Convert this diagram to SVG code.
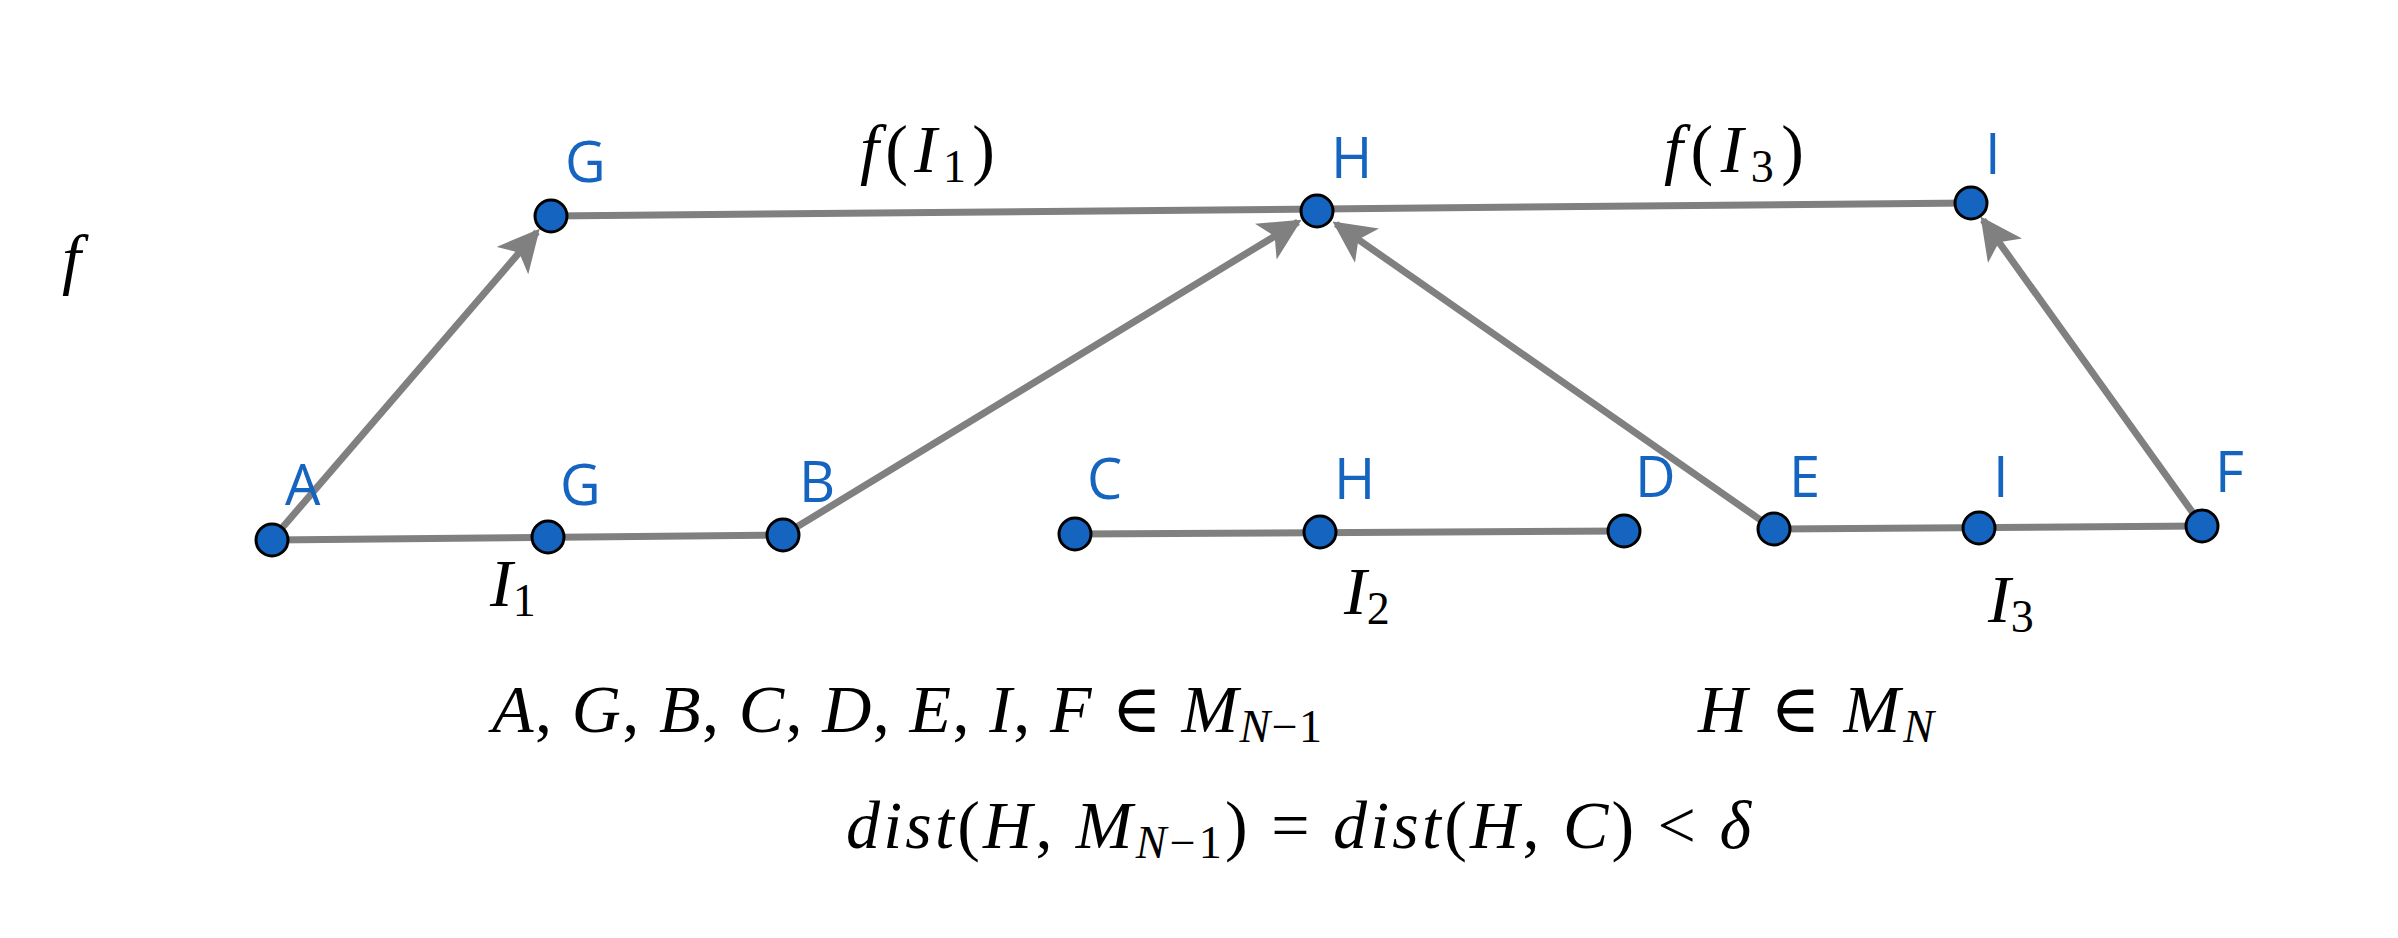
<svg xmlns="http://www.w3.org/2000/svg" width="2398" height="938" viewBox="0 0 2398 938">
<style>
.e{stroke:#808080;stroke-width:7;fill:none}
.a{marker-end:url(#ar)}
.n{fill:#1565C0;stroke:#000;stroke-width:3}
.l{fill:#1565C0;font-family:"Open Sans","DejaVu Sans",sans-serif;font-size:56px}
.m{font-family:"Liberation Serif","DejaVu Serif",serif;font-style:italic;font-size:68px;fill:#000}
.r{font-style:normal}
.s{font-size:46px}
</style>
<defs>
<marker id="ar" viewBox="0 0 10 10" refX="9" refY="5" markerWidth="6" markerHeight="6" markerUnits="strokeWidth" orient="auto">
<path d="M0,0L10,5L0,10L2.5,5z" fill="#808080"/>
</marker>
</defs>
<rect width="2398" height="938" fill="#fff"/>
<g id="connectors">
<line class="e" x1="272" y1="540" x2="783" y2="535"/>
<line class="e" x1="1075" y1="534" x2="1624" y2="531"/>
<line class="e" x1="1774" y1="529" x2="2202" y2="526"/>
<line class="e" x1="551" y1="216" x2="1971" y2="203"/>
<line class="e a" x1="282" y1="528" x2="537" y2="232"/>
<line class="e a" x1="795" y1="528" x2="1298" y2="222"/>
<line class="e a" x1="1762" y1="521" x2="1336" y2="224"/>
<line class="e a" x1="2193" y1="513" x2="1983" y2="220"/>
</g>
<g id="A"><circle class="n" cx="272" cy="540" r="16"/><text class="l" x="285" y="505">A</text></g>
<g id="G1"><circle class="n" cx="548" cy="537" r="16"/><text class="l" x="560" y="505">G</text></g>
<g id="B"><circle class="n" cx="783" cy="535" r="16"/><text class="l" x="799" y="502">B</text></g>
<g id="C"><circle class="n" cx="1075" cy="534" r="16"/><text class="l" x="1087" y="499">C</text></g>
<g id="H1"><circle class="n" cx="1320" cy="532" r="16"/><text class="l" x="1334" y="499">H</text></g>
<g id="D"><circle class="n" cx="1624" cy="531" r="16"/><text class="l" x="1635" y="497">D</text></g>
<g id="E"><circle class="n" cx="1774" cy="529" r="16"/><text class="l" x="1789" y="497">E</text></g>
<g id="I1"><circle class="n" cx="1979" cy="528" r="16"/><text class="l" x="1993" y="497">I</text></g>
<g id="F"><circle class="n" cx="2202" cy="526" r="16"/><text class="l" x="2215" y="492">F</text></g>
<g id="G2"><circle class="n" cx="551" cy="216" r="16"/><text class="l" x="565" y="182">G</text></g>
<g id="H2"><circle class="n" cx="1317" cy="211" r="16"/><text class="l" x="1331" y="178">H</text></g>
<g id="I2"><circle class="n" cx="1971" cy="203" r="16"/><text class="l" x="1985" y="174">I</text></g>
<g id="labels">
<text class="m" x="62" y="282">f</text>
<text class="m" x="860" y="172" textLength="135">f<tspan class="r">(</tspan>I<tspan class="r s" dy="10">1</tspan><tspan class="r" dy="-10">)</tspan></text>
<text class="m" x="1664" y="172" textLength="140">f<tspan class="r">(</tspan>I<tspan class="r s" dy="10">3</tspan><tspan class="r" dy="-10">)</tspan></text>
<text class="m" x="490" y="606">I<tspan class="r s" dy="10">1</tspan></text>
<text class="m" x="1344" y="614">I<tspan class="r s" dy="10">2</tspan></text>
<text class="m" x="1988" y="622">I<tspan class="r s" dy="10">3</tspan></text>
<text class="m" x="492" y="732" textLength="830">A<tspan class="r">, </tspan>G<tspan class="r">, </tspan>B<tspan class="r">, </tspan>C<tspan class="r">, </tspan>D<tspan class="r">, </tspan>E<tspan class="r">, </tspan>I<tspan class="r">, </tspan>F <tspan class="r">∈</tspan> M<tspan class="s" dy="10">N</tspan><tspan class="r s">−1</tspan></text>
<text class="m" x="1698" y="732" textLength="236">H <tspan class="r">∈</tspan> M<tspan class="s" dy="10">N</tspan></text>
<text class="m" x="846" y="848" textLength="905">dist<tspan class="r">(</tspan>H<tspan class="r">,</tspan> M<tspan class="s" dy="10">N</tspan><tspan class="r s">−1</tspan><tspan class="r" dy="-10">) = </tspan>dist<tspan class="r">(</tspan>H<tspan class="r">,</tspan> C<tspan class="r">) &lt; </tspan>δ</text>
</g>
</svg>
